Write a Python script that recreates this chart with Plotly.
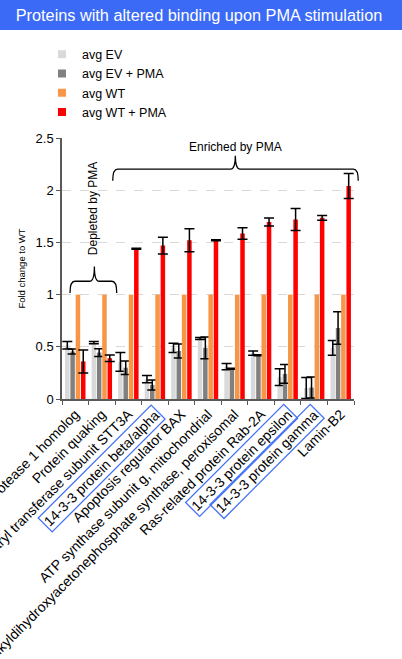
import plotly.graph_objects as go

categories = [
    "CAAX prenyl protease 1 homolog",
    "Protein quaking",
    "Oligosaccharyl transferase subunit STT3A",
    "14-3-3 protein beta/alpha",
    "Apoptosis regulator BAX",
    "ATP synthase subunit g, mitochondrial",
    "Alkyldihydroxyacetonephosphate synthase, peroxisomal",
    "Ras-related protein Rab-2A",
    "14-3-3 protein epsilon",
    "14-3-3 protein gamma",
    "Lamin-B2",
]
boxed = ["14-3-3 protein beta/alpha", "14-3-3 protein epsilon", "14-3-3 protein gamma"]

avg_ev = [0.515, 0.54, 0.355, 0.19, 0.49, 0.58, 0.31, 0.44, 0.21, 0.105, 0.49]
err_ev = [0.035, 0.01, 0.09, 0.035, 0.045, 0.01, 0.03, 0.02, 0.08, 0.10, 0.07]
avg_ev_pma = [0.455, 0.445, 0.30, 0.135, 0.46, 0.49, 0.29, 0.42, 0.24, 0.11, 0.68]
err_ev_pma = [0.023, 0.037, 0.065, 0.048, 0.068, 0.105, 0.005, 0.005, 0.09, 0.10, 0.155]
avg_wt = [1, 1, 1, 1, 1, 1, 1, 1, 1, 1, 1]
avg_wt_pma = [0.36, 0.39, 1.44, 1.47, 1.52, 1.52, 1.585, 1.695, 1.72, 1.735, 2.04]
err_wt_pma = [0.11, 0.032, 0.005, 0.08, 0.11, 0.005, 0.056, 0.038, 0.105, 0.022, 0.12]

series_names = ["avg EV", "avg EV + PMA", "avg WT", "avg WT + PMA"]
colors = ["#D9D9D9", "#808080", "#F79646", "#FF0000"]
y_ticks = [0, 0.5, 1, 1.5, 2, 2.5]
y_ticktext = ["0", "0.5", "1", "1.5", "2", "2.5"]

FONT = "Liberation Sans, Arial, sans-serif"
N = len(categories)
YMAX = 2.5

fig = go.Figure()
vals = [avg_ev, avg_ev_pma, avg_wt, avg_wt_pma]
errs = [err_ev, err_ev_pma, None, err_wt_pma]
for name, color, v, e in zip(series_names, colors, vals, errs):
    kw = {}
    if e is not None:
        kw["error_y"] = dict(type="data", array=e, visible=True, color="black",
                             thickness=1.5, width=5)
    fig.add_trace(go.Bar(x=categories, y=v, name=name, marker_color=color,
                         marker_line_width=0, legendgroup=name, showlegend=False, **kw))
# legend entries with small square swatches
for name, color in zip(series_names, colors):
    fig.add_trace(go.Scatter(x=[None], y=[None], mode="markers", name=name,
                             legendgroup=name, showlegend=True,
                             marker=dict(symbol="square", size=8, color=color)))


def to_paper(idx, val):
    return (idx + 0.5) / N, val / YMAX


def brace_path(x0, x1, xm, yb, yl, yt, dx):
    pts = [
        ("M", [(x0, yb)]),
        ("Q", [(x0, yl), (x0 + dx, yl)]),
        ("L", [(xm - dx, yl)]),
        ("Q", [(xm, yl), (xm, yt)]),
        ("Q", [(xm, yl), (xm + dx, yl)]),
        ("L", [(x1 - dx, yl)]),
        ("Q", [(x1, yl), (x1, yb)]),
    ]
    s = ""
    for cmd, ps in pts:
        s += cmd + " " + " ".join("%.5f,%.5f" % to_paper(*p) for p in ps) + " "
    return s.strip()


shapes = [
    # title bar
    dict(type="rect", xref="paper", yref="paper", x0=-0.3, x1=1.3,
         y0=(399 - 30) / 261, y1=1.6, fillcolor="#3B6AF7", line_width=0, layer="above"),
    dict(type="path", xref="paper", yref="paper",
         path=brace_path(-0.198, 1.562, 0.72, 1.016, 1.128, 1.27, 0.18),
         line=dict(color="black", width=1.3)),
    dict(type="path", xref="paper", yref="paper",
         path=brace_path(1.411, 10.66, 6.03, 2.09, 2.202, 2.33, 0.18),
         line=dict(color="black", width=1.3)),
]

annotations = [
    dict(text="Enriched by PMA", x=6.05, y=2.41, xref="x", yref="y", showarrow=False,
         font=dict(family=FONT, size=12, color="black")),
    dict(text="Depleted by PMA", x=0.644, y=1.822, xref="x", yref="y", showarrow=False,
         textangle=-90, font=dict(family=FONT, size=12, color="black")),
]
for c in boxed:
    annotations.append(dict(
        text=c, x=categories.index(c), xref="x", y=-0.019, yref="paper",
        xanchor="right", yanchor="top", xshift=11, showarrow=False, textangle=-45,
        bordercolor="#4472F5", borderwidth=1.3, borderpad=1,
        font=dict(family=FONT, size=14, color="black")))

fig.update_layout(
    width=402, height=659,
    margin=dict(l=62, r=48, t=138, b=260, autoexpand=False),
    paper_bgcolor="white", plot_bgcolor="white",
    barmode="group", bargap=0.2, bargroupgap=0.15,
    font=dict(family=FONT, color="black"),
    title=dict(text="Proteins with altered binding upon PMA stimulation",
               x=199 / 402, xanchor="center", xref="container", y=1 - 15 / 659,
               yref="container", yanchor="middle",
               font=dict(family=FONT, size=16.3, color="white")),
    legend=dict(x=-0.0686, xanchor="left", y=(399 - 39.5) / 261, yanchor="top",
                font=dict(family=FONT, size=12.5, color="black"),
                bgcolor="rgba(0,0,0,0)", tracegroupgap=0, itemclick=False),
    shapes=shapes, annotations=annotations,
    xaxis=dict(type="category", tickmode="array", tickvals=categories,
               ticktext=["" if c in boxed else c for c in categories],
               tickangle=-45, tickson="boundaries", ticks="outside", ticklen=4,
               tickcolor="#595959", showline=True, linecolor="#595959", linewidth=1.5,
               tickfont=dict(family=FONT, size=14, color="black"),
               range=[-0.5, N - 0.5], automargin=False, showgrid=False),
    yaxis=dict(range=[0, YMAX], tickmode="array", tickvals=y_ticks, ticktext=y_ticktext,
               ticks="outside", ticklen=4, tickcolor="#595959", showline=True,
               linecolor="#595959", linewidth=1.5, showgrid=True, gridcolor="#D9D9D9",
               griddash="dash", gridwidth=1, zeroline=False,
               tickfont=dict(family=FONT, size=13, color="black"),
               title=dict(text="Fold change to WT", standoff=8,
                          font=dict(family=FONT, size=9.5, color="black")),
               automargin=False),
)

fig.write_html("out.html", config={"displayModeBar": False},
               post_script="document.body.style.margin='0';document.body.style.overflow='hidden';")
